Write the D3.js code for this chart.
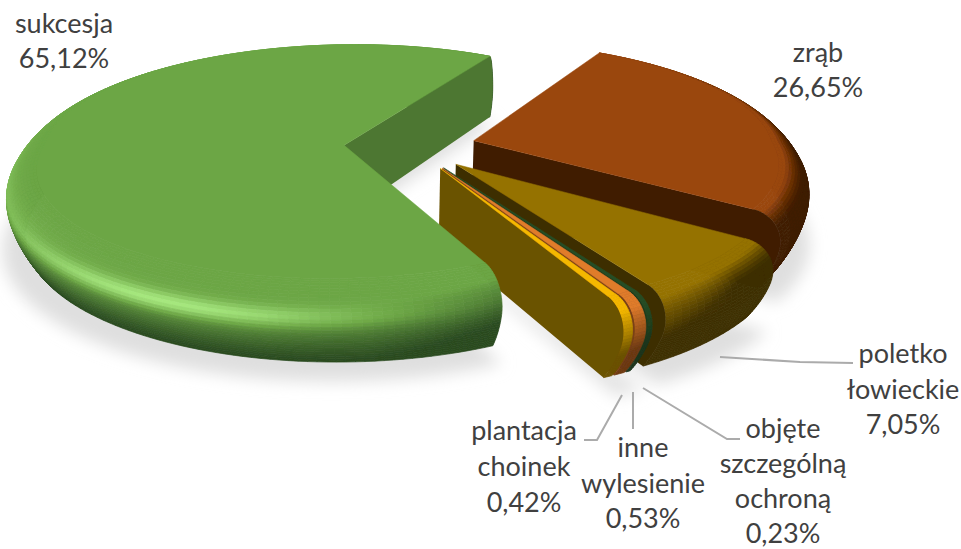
<!DOCTYPE html>
<html><head><meta charset="utf-8">
<script src="https://cdn.jsdelivr.net/npm/d3@7/dist/d3.min.js"></script>
<style>html,body{margin:0;padding:0;background:#fff}svg{display:block}</style>
</head><body><div id="c"></div>
<script>
const categories = ["zrąb","poletko łowieckie","objęte szczególną ochroną","inne wylesienie","plantacja choinek","sukcesja"];
const values = [26.65,7.05,0.23,0.53,0.42,65.12];
const topColors = ["#9A470C","#957200","#264E26","#E07B2C","#F5B800","#6CA645"];
const wallColors = ["#3F1C00","#3E2F00","#1E3A1E","#7A3F15","#6B5200","#4D7730"];
const darkColors = ["#3F1C00","#3E2F00","#1C351C","#6E3A12","#6B5200","#2A4A20"];
const lightColors = ["#B5651F","#AD8A10","#2F5A2E","#F09040","#FFD030","#A8EA80"];

const W=961,H=549;
const svg=d3.select("#c").append("svg").attr("width",W).attr("height",H);
const defs=svg.append("defs");
defs.append("filter").attr("id","soft").attr("x","-20%").attr("y","-20%").attr("width","140%").attr("height","140%")
  .append("feGaussianBlur").attr("stdDeviation",8);
defs.append("filter").attr("id","aa").attr("x","-5%").attr("y","-5%").attr("width","110%").attr("height","110%")
  .append("feGaussianBlur").attr("stdDeviation",.55);

const rad=Math.PI/180;
const startA=29*rad, explode=.2;
const pie=d3.pie().sort(null).startAngle(startA).endAngle(startA+2*Math.PI);
const arcs=pie(values);

const cx=410, topV={y0:146,a:120,p:.2,R:330}, botV={y0:216,a:127,p:.142,R:318};
function proj(v,X,Y){const s=1/(1-v.p*Y);return [cx+X*s*v.R, v.y0+Y*s*v.a];}
function point(a,th,r,d){
  const mid=(a.startAngle+a.endAngle)/2;
  const X=explode*Math.sin(mid)+r*Math.sin(th), Y=-explode*Math.cos(mid)-r*Math.cos(th);
  const p=proj(topV,X,Y), q=proj(botV,X,Y);
  return [p[0]+(q[0]-p[0])*d, p[1]+(q[1]-p[1])*d];
}
const rFlat=th=>.91+.1*Math.max(0,Math.cos(th));
function profile(th,t){
  const rf=rFlat(th), rMax=1.02;
  if(t<.55){const a=t/.55*Math.PI/2;return {r:rf+(rMax-rf)*Math.sin(a),d:.5*(1-Math.cos(a))};}
  const u=(t-.55)/.45;return {r:rMax-(rMax-.995)*u*u,d:.5+.5*u};
}
const clamp=(v,a,b)=>Math.max(a,Math.min(b,v));
const bell=(x,c,w)=>Math.exp(-((x-c)/w)*((x-c)/w));
function shade(i,th,t){
  let deg=th/rad; if(deg>360) deg-=360;
  const s=clamp((deg-90)/100,0,1);
  const back=clamp((deg-262)/45,0,1);
  const tp=(.05+.37*s*s)*(1-back)+.95*back;
  const w=.22+.78*clamp((deg-135)/40,0,1);
  const u=t<tp?0:(t-tp)/(1-tp);
  const base=Math.pow(Math.max(0,1-u/w),1.4);
  const hi=.95*bell(deg,205,30)*bell(t,.42,.09)+.3*bell(deg,262,32)*bell(t,.36,.16);
  const m=base+hi;
  if(m>=1) return d3.interpolateRgb(topColors[i],lightColors[i])(Math.min(1,m-1));
  return d3.interpolateRgb(darkColors[i],topColors[i])(Math.max(0,m));
}
const line=d3.line();
const closed=pts=>line(pts)+"Z";
const tSteps=d3.range(0,1.0001,1/30);

const shadow=svg.append("g").attr("filter","url(#soft)").attr("transform","translate(-2,20)");
arcs.forEach(a=>{
  const pts=[point(a,a.startAngle,0,.85)];
  d3.range(a.startAngle,a.endAngle+1e-4,1.5*rad).forEach(th=>pts.push(point(a,th,1.05,.85)));
  pts.push(point(a,a.endAngle,1.05,.85));
  shadow.append("path").attr("d",closed(pts)).attr("fill","#dfdfdf");
});

const pieG=svg.append("g").attr("filter","url(#aa)");
arcs.forEach(a=>{
  const i=a.index, g=pieG.append("g").attr("class","slice");
  const span=a.endAngle-a.startAngle;
  const n=Math.max(3,Math.ceil(span/(1.5*rad)));
  const ths=d3.range(n+1).map(j=>a.startAngle+span*j/n);
  // facets of the rounded rim, furthest from the viewer first
  const order=d3.range(n).sort((p,q)=>Math.cos(ths[q]+span/n/2)-Math.cos(ths[p]+span/n/2));
  order.forEach(j=>{
    const m=(ths[j]+ths[j+1])/2;
    for(let q=0;q<tSteps.length-1;q++){
      const t0=tSteps[q],t1=tSteps[q+1];
      const p0=profile(ths[j],t0),p1=profile(ths[j+1],t0),p2=profile(ths[j+1],t1),p3=profile(ths[j],t1);
      const col=shade(i,m,(t0+t1)/2);
      g.append("path").attr("d",closed([
        point(a,ths[j],p0.r,p0.d),point(a,ths[j+1],p1.r,p1.d),
        point(a,ths[j+1],p2.r,p2.d),point(a,ths[j],p3.r,p3.d)]))
        .attr("fill",col).attr("stroke",col).attr("stroke-width",.7);
    }
  });
  const th=a.endAngle;
  const wall=[point(a,th,0,0)];
  tSteps.forEach(t=>{const p=profile(th,t);wall.push(point(a,th,p.r,p.d));});
  wall.push(point(a,th,0,1));
  g.append("path").attr("d",closed(wall)).attr("fill",wallColors[i]);
  const top=[point(a,a.startAngle,0,0)];
  ths.forEach(x=>top.push(point(a,x,rFlat(x),0)));
  g.append("path").attr("d",closed(top)).attr("fill",topColors[i]).attr("stroke",topColors[i]).attr("stroke-width",.5);
});

const leaders=[
  [[720,357],[800,362],[853,363]],
  [[643,388],[727,439],[740,439]],
  [[633,392],[633,429]],
  [[622,395],[597,440],[584,440]]
];
svg.append("g").selectAll("path").data(leaders).join("path")
  .attr("d",d=>line(d)).attr("fill","none").attr("stroke","#ababab").attr("stroke-width",2);

const labelAnchors=[[818,62],[903,363],[783,438],[643,457],[524,440],[64,33]];
const lineStep=[35,35.5,35,35.5,36,35];
const fmt=v=>v.toFixed(2).replace(".",",")+"%";
const labels=svg.append("g").attr("font-family","Lato, 'Noto Sans', sans-serif").attr("font-size",27).attr("fill","#404040").attr("text-anchor","middle");
categories.forEach((c,i)=>{
  const t=labels.append("text").attr("x",labelAnchors[i][0]).attr("y",labelAnchors[i][1]);
  c.split(" ").concat([fmt(values[i])]).forEach((w,k)=>{
    t.append("tspan").attr("x",labelAnchors[i][0]).attr("dy",k?lineStep[i]:0).text(w);
  });
});
</script></body></html>
